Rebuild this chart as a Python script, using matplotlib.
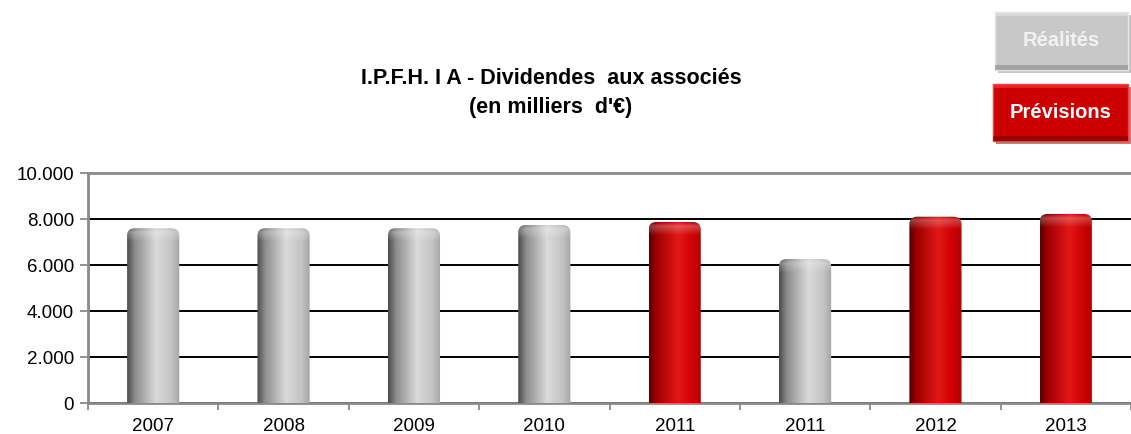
import numpy as np
import matplotlib
matplotlib.use("Agg")
import matplotlib.pyplot as plt
from matplotlib.path import Path
from matplotlib.patches import PathPatch, FancyBboxPatch
from matplotlib.ticker import FuncFormatter, FixedLocator

plt.rcParams['font.family'] = ['Liberation Sans', 'DejaVu Sans']

# données
annees = ["2007", "2008", "2009", "2010", "2011", "2011", "2012", "2013"]
dividendes = [7600, 7600, 7600, 7740, 7870, 6260, 8100, 8220]
nature = ["réel", "réel", "réel", "réel", "prév", "réel", "prév", "prév"]
yticks = [0, 2000, 4000, 6000, 8000, 10000]

# dégradés "cylindre"
stops = [0.0, 0.15, 0.55, 0.85, 1.0]
gris = ["#4a4a4a", "#8c8c8c", "#dadada", "#c2c2c2", "#a5a5a5"]
rouge = ["#5a0000", "#a00000", "#e31717", "#c90000", "#b00000"]


def degrade(couleurs, n=200):
    rgb = np.array([matplotlib.colors.to_rgb(c) for c in couleurs])
    t = np.linspace(0, 1, n)
    img = np.stack([np.interp(t, stops, rgb[:, k]) for k in range(3)], axis=-1)
    return img[np.newaxis, :, :]


fig = plt.figure(figsize=(11.31, 4.34), dpi=100)
ax = fig.add_axes([88 / 1131, 31 / 434, 1 - 88 / 1131, 230 / 434])

largeur = 0.4
rx, ry = 0.06, 330  # arrondi du haut des barres
for i, (v, n) in enumerate(zip(dividendes, nature)):
    x0, x1 = i - largeur / 2, i + largeur / 2
    verts = [(x0, 0), (x0, v - ry), (x0, v), (x0 + rx, v), (x1 - rx, v),
             (x1, v), (x1, v - ry), (x1, 0), (x0, 0)]
    codes = [Path.MOVETO, Path.LINETO, Path.CURVE3, Path.CURVE3, Path.LINETO,
             Path.CURVE3, Path.CURVE3, Path.LINETO, Path.CLOSEPOLY]
    forme = PathPatch(Path(verts, codes), facecolor="none", edgecolor="none", zorder=3)
    ax.add_patch(forme)
    im = ax.imshow(degrade(gris if n == "réel" else rouge), extent=[x0, x1, 0, v],
                   aspect="auto", zorder=3, interpolation="bilinear")
    im.set_clip_path(forme)
    # reflet en haut
    reflet = np.zeros((20, 1, 4))
    reflet[:, :, :3] = 1.0
    reflet[:, 0, 3] = np.concatenate([np.linspace(0, 0.25, 6), np.linspace(0.25, 0, 14)])
    im2 = ax.imshow(reflet, extent=[x0, x1, v - 600, v], aspect="auto", zorder=3.5,
                    interpolation="bilinear")
    im2.set_clip_path(forme)

ax.set_xlim(-0.5, len(annees) - 0.5)
ax.set_ylim(0, 10000)

ax.xaxis.set_major_locator(FixedLocator(range(len(annees))))
ax.set_xticklabels(annees, fontsize=13.5)
ax.xaxis.set_minor_locator(FixedLocator(np.arange(-0.5, len(annees), 1.0)))
ax.tick_params(axis="x", which="major", length=0, pad=11)
ax.tick_params(axis="x", which="minor", length=5, color="#808080", width=1.2)

ax.yaxis.set_major_locator(FixedLocator(yticks))
ax.yaxis.set_major_formatter(FuncFormatter(lambda v, p: f"{int(v):,}".replace(",", ".")))
ax.tick_params(axis="y", length=6, color="#808080", width=1.2, labelsize=13.5, pad=4)

ax.set_axisbelow(True)
ax.yaxis.grid(True, color="black", lw=1.4)
for s in ["left", "bottom", "top"]:
    ax.spines[s].set_color("#8a8a8a")
    ax.spines[s].set_linewidth(2)
ax.spines["right"].set_visible(False)

fig.text(551 / 1131, 1 - 78 / 434, "I.P.F.H. I A - Dividendes  aux associés",
         ha="center", va="center", fontsize=15.5, fontweight="bold")
fig.text(551 / 1131, 1 - 107 / 434, "(en milliers  d'€)",
         ha="center", va="center", fontsize=15.5, fontweight="bold")


def bouton(x, y, w, h, fond, ombre, clair, texte, couleur_texte):
    W, H = 1131, 434
    fig.patches.append(FancyBboxPatch(((x + 3) / W, 1 - (y + h + 3) / H), w / W, h / H,
                                      boxstyle="square,pad=0", transform=fig.transFigure,
                                      facecolor=ombre, edgecolor="none", alpha=0.5))
    fig.patches.append(FancyBboxPatch((x / W, 1 - (y + h) / H), w / W, h / H,
                                      boxstyle="square,pad=0", transform=fig.transFigure,
                                      facecolor=fond, edgecolor=clair, lw=1))
    fig.patches.append(FancyBboxPatch((x / W, 1 - (y + h) / H), w / W, 5 / H,
                                      boxstyle="square,pad=0", transform=fig.transFigure,
                                      facecolor=ombre, edgecolor="none", alpha=0.6))
    fig.patches.append(FancyBboxPatch((x / W, 1 - (y + 4) / H), w / W, 4 / H,
                                      boxstyle="square,pad=0", transform=fig.transFigure,
                                      facecolor=clair, edgecolor="none", alpha=0.6))
    fig.text((x + w / 2) / W, 1 - (y + h / 2) / H, texte, ha="center", va="center",
             fontsize=14.5, fontweight="bold", color=couleur_texte)


bouton(995, 12, 133, 58, "#c8c8c8", "#8a8a8a", "#e6e6e6", "Réalités", "#f2f2f2")
bouton(993, 84, 135, 57, "#cc0000", "#7a0000", "#ff3a3a", "Prévisions", "white")

fig.savefig("out.png", dpi=100)
